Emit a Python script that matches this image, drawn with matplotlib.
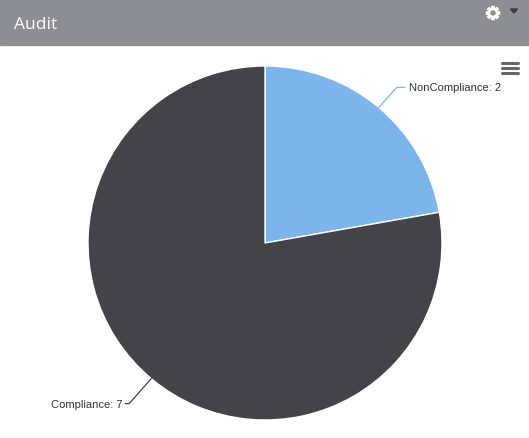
import numpy as np
import matplotlib
matplotlib.use('Agg')
import matplotlib.pyplot as plt
from matplotlib.patches import Rectangle, Circle, Polygon

# data
categories = ['NonCompliance', 'Compliance']
values = [2, 7]
colors = ['#7cb5ec', '#434348']
title = 'Audit'

W, H = 529, 439
fig = plt.figure(figsize=(W / 100, H / 100), dpi=100)
ax = fig.add_axes([0, 0, 1, 1])

cx, cy, r = 265, H - 244, 177
wedges, _ = ax.pie(values, colors=colors, startangle=90, counterclock=False,
                   center=(cx, cy), radius=r,
                   wedgeprops=dict(edgecolor='white', linewidth=1))

ax.set_xlim(0, W)
ax.set_ylim(0, H)
ax.set_aspect('auto')
ax.axis('off')

# header bar
hdr = '#8b8e92'
ax.add_patch(Rectangle((0, H - 46), W, 46, color=hdr, zorder=5))
ax.text(14, H - 25, title, color='white', fontsize=12.5, family='Open Sans',
        va='center', ha='left', zorder=6)

# gear icon
gx, gy = 493, H - 14
t = np.linspace(0, 2 * np.pi, 400)
rad = 5.0 + 1.6 * (np.cos(8 * t) > 0.1)
ax.add_patch(Polygon(np.c_[gx + rad * np.cos(t), gy + rad * np.sin(t)],
                     color='white', zorder=6))
ax.add_patch(Circle((gx, gy), 2.0, color=hdr, zorder=7))
ax.add_patch(Polygon([[510.5, H - 10], [517.5, H - 10], [514, H - 14]],
                     color='#3a3a3a', zorder=6))

# menu icon
for yy in (64, 69, 74):
    ax.plot([502, 518], [H - yy, H - yy], color='#666666', lw=2.2,
            solid_capstyle='round', zorder=6)

# data labels with connectors
for w, name, v, c in zip(wedges, categories, values, colors):
    mid = np.deg2rad((w.theta1 + w.theta2) / 2)
    x0, y0 = cx + r * np.cos(mid), cy + r * np.sin(mid)
    right = np.cos(mid) > 0
    x1 = x0 + (18 if right else -22)
    y1 = y0 + (20 if np.sin(mid) > 0 else -25)
    x2 = x1 + (8 if right else -4)
    ax.plot([x0, x1, x2], [y0, y1, y1], color=c, lw=0.9)
    ax.text(x2 + (4 if right else -3), y1, '%s: %d' % (name, v),
            ha='left' if right else 'right', va='center',
            fontsize=8, family='Liberation Sans', color='#333333')

fig.savefig('out.png', dpi=100, facecolor='white')
